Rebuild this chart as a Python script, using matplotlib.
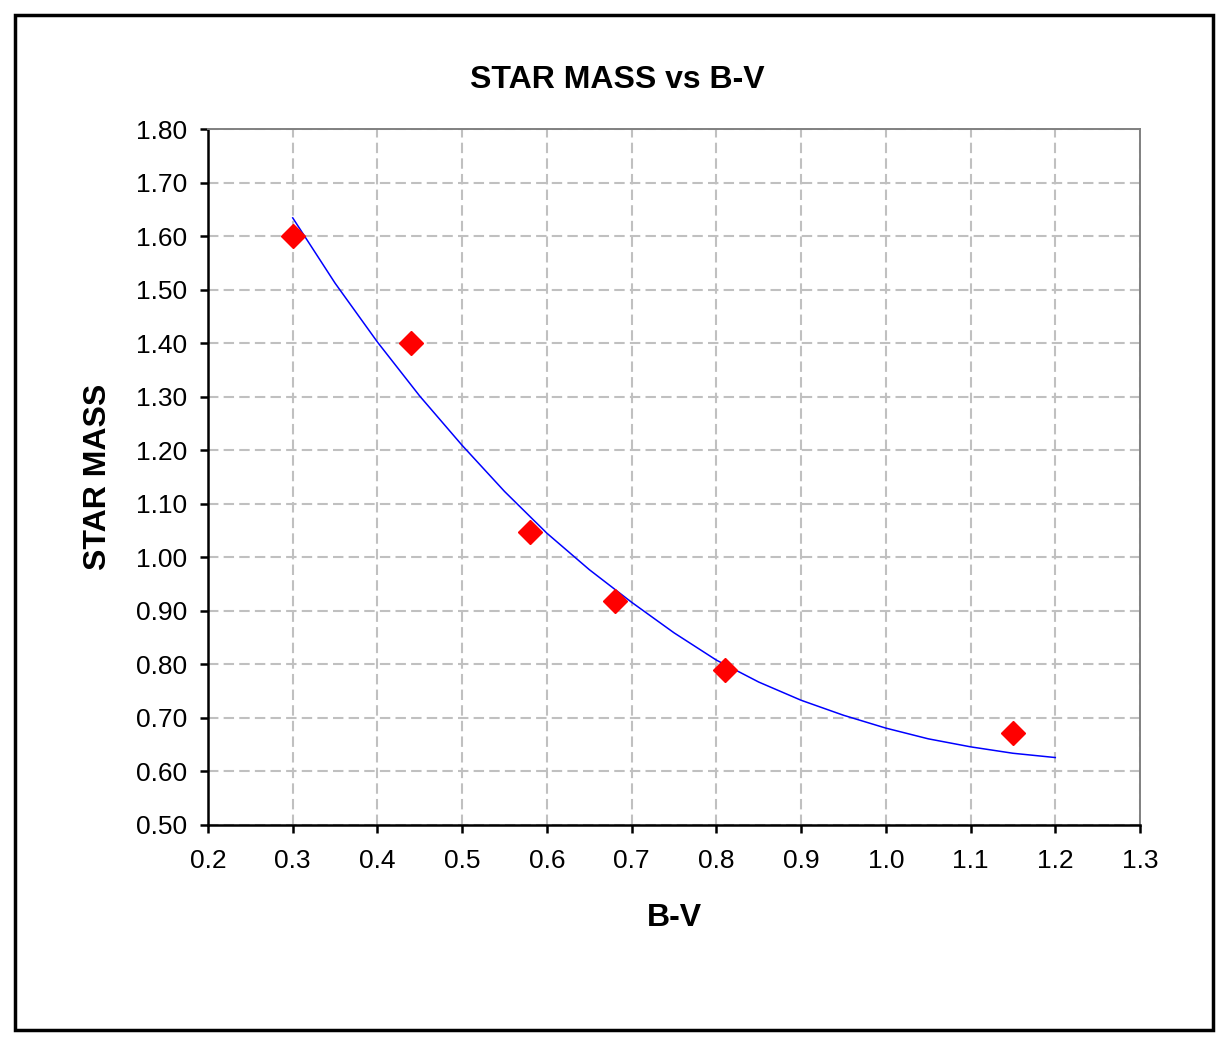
import numpy as np
import matplotlib
matplotlib.use('Agg')
import matplotlib.pyplot as plt
from matplotlib.patches import Rectangle

plt.rcParams['font.family'] = ['Liberation Sans', 'DejaVu Sans']

# dane
bv = [0.30, 0.44, 0.58, 0.68, 0.81, 1.15]
mass = [1.60, 1.40, 1.047, 0.918, 0.789, 0.672]

# linia trendu
trend_bv = [0.30, 0.35, 0.40, 0.45, 0.50, 0.55, 0.60, 0.65, 0.70, 0.75,
            0.80, 0.85, 0.90, 0.95, 1.00, 1.05, 1.10, 1.15, 1.20]
trend_mass = [1.634, 1.512, 1.402, 1.301, 1.209, 1.123, 1.045, 0.977, 0.916, 0.859,
              0.808, 0.767, 0.733, 0.705, 0.681, 0.661, 0.646, 0.634, 0.626]

fig = plt.figure(figsize=(12.29, 10.45), dpi=100)
ax = fig.add_axes([208 / 1229, 1 - 825 / 1045, (1140 - 208) / 1229, (825 - 129) / 1045])

ax.plot(trend_bv, trend_mass, color='#0000ff', lw=1.1, zorder=3)
ax.plot(bv, mass, 'D', color='#ff0000', ms=12, mec='#ff0000', zorder=4, clip_on=False)

ax.set_xlim(0.2, 1.3)
ax.set_ylim(0.5, 1.8)
ax.set_xticks(np.arange(0.2, 1.31, 0.1))
ax.set_yticks(np.arange(0.5, 1.81, 0.1))
ax.xaxis.set_major_formatter(matplotlib.ticker.FormatStrFormatter('%.1f'))
ax.yaxis.set_major_formatter(matplotlib.ticker.FormatStrFormatter('%.2f'))

ax.grid(True, color='#c0c0c0', ls=(0, (5, 2.5)), lw=1.5)
ax.set_axisbelow(True)

for s in ['left', 'bottom']:
    ax.spines[s].set_color('black')
    ax.spines[s].set_linewidth(1.8)
for s in ['top', 'right']:
    ax.spines[s].set_color('#808080')
    ax.spines[s].set_linewidth(1.4)

ax.tick_params(axis='both', direction='out', length=6, width=1.8, labelsize=19, color='black')
ax.tick_params(axis='y', pad=9)
ax.tick_params(axis='x', pad=11)

fig.text(0.502, 1 - 80 / 1045, 'STAR MASS vs B-V', ha='center', va='center',
         fontsize=23, fontweight='bold')
fig.text(674 / 1229, 1 - 918 / 1045, 'B-V', ha='center', va='center',
         fontsize=23, fontweight='bold')
fig.text(98 / 1229, 1 - 477 / 1045, 'STAR MASS', ha='center', va='center',
         rotation=90, fontsize=23, fontweight='bold')

# ramka wykresu
fig.patches.append(Rectangle((15 / 1229, 1 - 1030 / 1045), (1213 - 15) / 1229, (1030 - 15) / 1045,
                             transform=fig.transFigure, fill=False, ec='black', lw=2.5))

fig.savefig('out.png', dpi=100)
